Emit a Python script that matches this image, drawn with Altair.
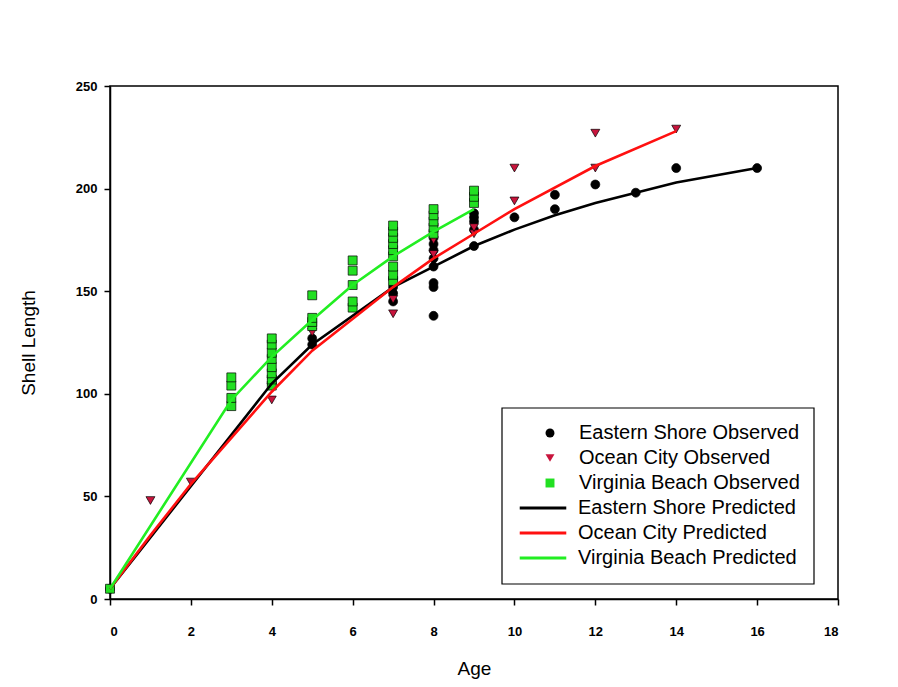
import altair as alt
import pandas as pd

# ---------------- data ----------------
es_obs_age = [0, 4, 4, 5, 5, 7, 7, 7, 7, 8, 8, 8, 8, 8, 8, 8, 8,
              9, 9, 9, 9, 9, 10, 11, 11, 12, 13, 14, 16]
es_obs_len = [5, 105, 108, 124, 127, 145, 149, 152, 156, 138, 152, 154, 162, 166, 170, 173, 176,
              172, 180, 184, 186, 188, 186, 190, 197, 202, 198, 210, 210]

oc_obs_age = [1, 2, 4, 5, 5, 7, 7, 8, 8, 9, 9, 10, 10, 12, 12, 14]
oc_obs_len = [48, 57, 97, 130, 133, 139, 146, 168, 175, 178, 181, 194, 210, 210, 227, 229]

vb_obs_age = [0, 3, 3, 3, 3, 4, 4, 4, 4, 4, 4, 4, 4, 5, 5, 5, 5,
              6, 6, 6, 6, 6, 7, 7, 7, 7, 7, 7, 7, 7, 7, 8, 8, 8, 8, 8, 9, 9, 9]
vb_obs_len = [5, 94, 98, 104, 108, 104, 107, 110, 113, 117, 120, 124, 127, 133, 135, 137, 148,
              142, 145, 153, 160, 165, 155, 158, 162, 167, 170, 173, 176, 179, 182,
              178, 181, 184, 187, 190, 193, 196, 199]

es_pred_age = [0, 4, 5, 7, 8, 9, 10, 11, 12, 13, 14, 16]
es_pred_len = [5, 105, 124, 152, 162, 172, 180, 187, 193, 198, 203, 210]

oc_pred_age = [0, 1, 2, 4, 5, 7, 8, 9, 10, 12, 14]
oc_pred_len = [5, 31, 56, 101, 121, 152, 166, 178, 190, 211, 228]

vb_pred_age = [0, 3, 4, 5, 6, 7, 8, 9]
vb_pred_len = [5, 97, 118, 136, 153, 167, 179, 190]

obs_names = ["Eastern Shore Observed", "Ocean City Observed", "Virginia Beach Observed"]
pred_names = ["Eastern Shore Predicted", "Ocean City Predicted", "Virginia Beach Predicted"]

x_ticks = list(range(0, 19, 2))
y_ticks = [0, 50, 100, 150, 200, 250]

# ---------------- tables ----------------
obs_df = pd.concat([
    pd.DataFrame({"age": es_obs_age, "length": es_obs_len, "series": obs_names[0]}),
    pd.DataFrame({"age": oc_obs_age, "length": oc_obs_len, "series": obs_names[1]}),
    pd.DataFrame({"age": vb_obs_age, "length": vb_obs_len, "series": obs_names[2]}),
], ignore_index=True)

pred_df = pd.concat([
    pd.DataFrame({"age": es_pred_age, "length": es_pred_len, "series": pred_names[0]}),
    pd.DataFrame({"age": oc_pred_age, "length": oc_pred_len, "series": pred_names[1]}),
    pd.DataFrame({"age": vb_pred_age, "length": vb_pred_len, "series": pred_names[2]}),
], ignore_index=True)

FONT = "Liberation Sans"

x_enc = alt.X("age:Q", scale=alt.Scale(domain=[0, 18], nice=False),
              axis=alt.Axis(title="Age", values=x_ticks, labelPadding=20, titlePadding=21))
y_enc = alt.Y("length:Q", scale=alt.Scale(domain=[0, 250], nice=False),
              axis=alt.Axis(title="Shell Length", values=y_ticks, labelPadding=7, titlePadding=37))

pt_legend = alt.Legend(title=None, orient="none", legendX=430, legendY=337,
                       labelFont=FONT, labelFontSize=20, labelColor="black", labelLimit=400,
                       symbolSize=80, symbolStrokeColor="black", symbolStrokeWidth=0.7,
                       labelOffset=19, rowPadding=5, padding=0)

points = alt.Chart(obs_df).mark_point(
    filled=True, size=80, stroke="black", strokeWidth=0.7, opacity=1
).encode(
    x=x_enc, y=y_enc,
    fill=alt.Fill("series:N", scale=alt.Scale(domain=obs_names,
                                              range=["#000000", "#c8143c", "#22e022"]),
                  legend=pt_legend, sort=obs_names),
    shape=alt.Shape("series:N", scale=alt.Scale(domain=obs_names,
                                                range=["circle", "triangle-down", "square"]),
                    legend=pt_legend, sort=obs_names),
)

lines = alt.Chart(pred_df).mark_line(strokeWidth=2.6).encode(
    x=alt.X("age:Q"), y=alt.Y("length:Q"),
    stroke=alt.Stroke("series:N", scale=alt.Scale(domain=pred_names,
                                                  range=["#000000", "#ff1010", "#22ee22"]),
                      sort=pred_names,
                      legend=alt.Legend(title=None, orient="none", legendX=422, legendY=411,
                                        labelFont=FONT, labelFontSize=20, labelColor="black",
                                        labelLimit=400,
                                        symbolType="M-2.45,0H2.45", symbolSize=361,
                                        symbolStrokeWidth=3, labelOffset=24,
                                        rowPadding=4, padding=0)),
)

legend_box = alt.Chart(pd.DataFrame({"k": [0]})).mark_rect(
    fill="white", stroke="black", strokeWidth=1.2
).encode(x=alt.value(392), x2=alt.value(704), y=alt.value(322), y2=alt.value(498))

chart = alt.layer(legend_box, points, lines).properties(
    width=728, height=513,
    autosize=alt.AutoSizeParams(type="none"),
    padding={"left": 102, "top": 78, "right": 52, "bottom": 80},
    background="white",
).configure_view(
    stroke="black", strokeWidth=1.5, fill="white"
).configure_axis(
    grid=False, domainColor="black", domainWidth=1.5,
    tickColor="black", tickWidth=1.5, tickSize=6,
    labelFont=FONT, labelFontSize=13, labelFontWeight="bold", labelColor="black",
    titleFont=FONT, titleFontSize=19, titleFontWeight="normal", titleColor="black",
)

chart.save("out.html", embed_options={"renderer": "svg", "actions": False})
